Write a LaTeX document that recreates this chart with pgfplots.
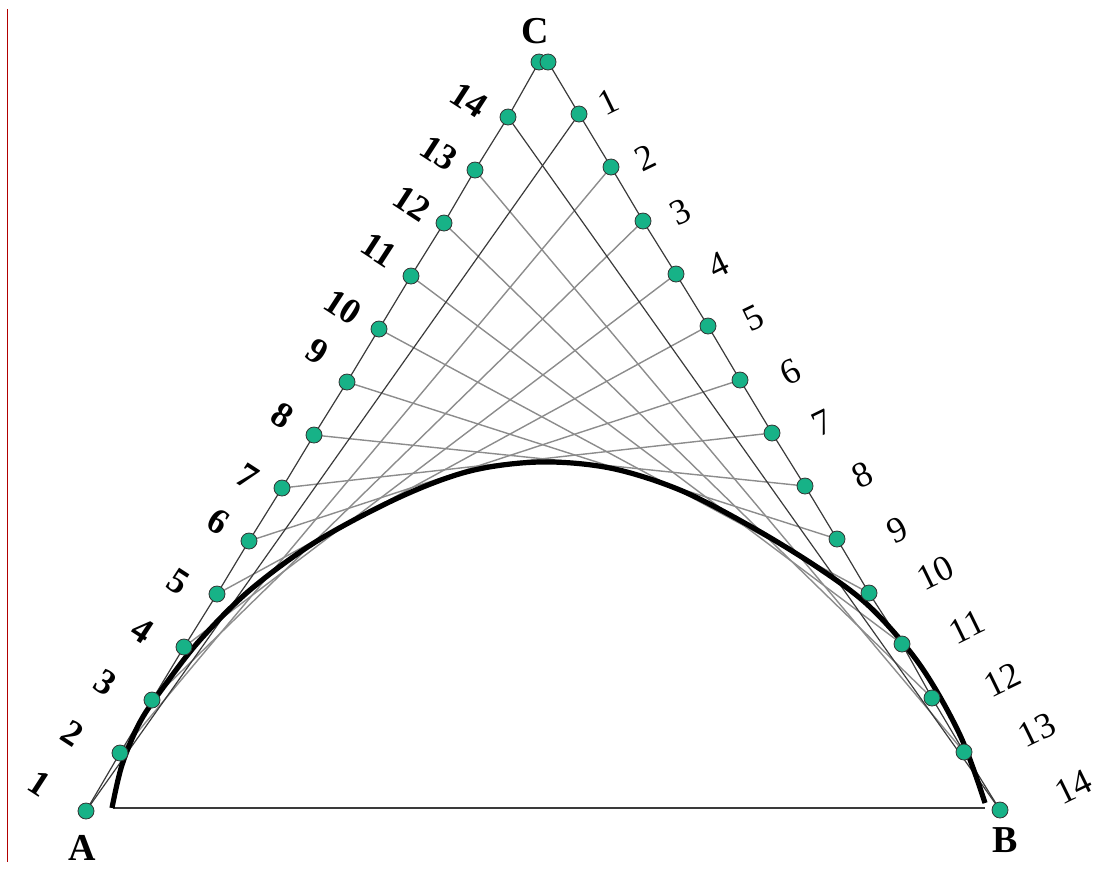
\documentclass[border=0pt]{standalone}
\usepackage{fontspec}
\setmainfont{Liberation Serif}
\usepackage{pgfplots}
\pgfplotsset{compat=1.18}
\definecolor{dotgreen}{HTML}{17B287}
\definecolor{chord}{HTML}{8C8C8C}
\definecolor{edge}{HTML}{3A3A3A}

% points in picture pixels (y grows downward)
\pgfplotstableread{
x y
86 811
120 753
152 700
184 647
217 594
249 541
282 488
314 435
347 382
379 329
411 276
444 223
475 170
508 117
539 62
}\leftpts
\pgfplotstableread{
x y
548 62
579 114
611 167
643 221
676 274
708 326
740 380
772 433
805 486
837 539
869 593
902 644
932 698
964 752
1000 810
}\rightpts

\begin{document}
\begin{tikzpicture}
\begin{axis}[
  scale only axis,
  width=551pt, height=437pt,
  xmin=0, xmax=1102, ymin=0, ymax=874,
  y dir=reverse,
  hide axis,
  clip=false,
]
% frame for the bounding box
\addplot[draw=none] coordinates {(0,0) (1102,874)};
% thin line on the left edge
\addplot[red!70!black, line width=0.5pt] coordinates {(7,9) (7,862)};

% chords: left i to right i
\addplot[chord, line width=0.7pt] coordinates {(120,753) (611,167)};
\addplot[chord, line width=0.7pt] coordinates {(152,700) (643,221)};
\addplot[chord, line width=0.7pt] coordinates {(184,647) (676,274)};
\addplot[chord, line width=0.7pt] coordinates {(217,594) (708,326)};
\addplot[chord, line width=0.7pt] coordinates {(249,541) (740,380)};
\addplot[chord, line width=0.7pt] coordinates {(282,488) (772,433)};
\addplot[chord, line width=0.7pt] coordinates {(314,435) (805,486)};
\addplot[chord, line width=0.7pt] coordinates {(347,382) (837,539)};
\addplot[chord, line width=0.7pt] coordinates {(379,329) (869,593)};
\addplot[chord, line width=0.7pt] coordinates {(411,276) (902,644)};
\addplot[chord, line width=0.7pt] coordinates {(444,223) (932,698)};
\addplot[chord, line width=0.7pt] coordinates {(475,170) (964,752)};
\addplot[edge, line width=0.6pt] coordinates {(86,811) (579,114)};
\addplot[edge, line width=0.6pt] coordinates {(508,117) (1000,810)};

% sides of the triangle
\addplot[edge, line width=0.6pt] table {\leftpts};
\addplot[edge, line width=0.6pt] table {\rightpts};
\addplot[edge, line width=0.7pt] coordinates {(113,808) (985,808)};

% envelope
\addplot[black, line width=2.6pt, smooth, tension=0.55] coordinates {
(112,808) (122,765) (140,722) (165,685) (200,640) (250,590) (317,541)
(400,497) (470,471) (540,462) (610,468) (680,490) (750,526) (817,567)
(870,607) (920,665) (960,735) (985,803)
};

% dots
\addplot[only marks, mark=*, mark size=4pt,
  mark options={fill=dotgreen, draw=black!80, line width=0.4pt}] table {\leftpts};
\addplot[only marks, mark=*, mark size=4pt,
  mark options={fill=dotgreen, draw=black!80, line width=0.4pt}] table {\rightpts};

% labels on the left side
\addplot[draw=none, mark=none, nodes near coords, point meta=explicit symbolic,
  every node near coord/.append style={anchor=center, rotate=-33,
    font=\fontsize{18}{18}\selectfont\bfseries, inner sep=0pt}]
  table[meta=lab] {
x y lab
40 783 1
73 733 2
105 683 3
142 630 4
178 582 5
218 522 6
247 477 7
282 415 8
317 352 9
343 307 10
379 250 11
412 203 12
439 153 13
469 100 14
};
% labels on the right side
\addplot[draw=none, mark=none, nodes near coords, point meta=explicit symbolic,
  every node near coord/.append style={anchor=center, rotate=26,
    font=\fontsize{18}{18}\selectfont, inner sep=0pt}]
  table[meta=lab] {
x y lab
608 102 1
645 158 2
680 212 3
718 265 4
753 318 5
790 372 6
822 423 7
862 475 8
897 530 9
935 573 10
967 627 11
1002 680 12
1037 730 13
1073 787 14
};
% vertices
\addplot[draw=none, mark=none, nodes near coords, point meta=explicit symbolic,
  every node near coord/.append style={anchor=center,
    font=\fontsize{19}{19}\selectfont\bfseries, inner sep=0pt}]
  table[meta=lab] {
x y lab
82 848 A
1005 840 B
535 31 C
};
\end{axis}
\end{tikzpicture}
\end{document}
